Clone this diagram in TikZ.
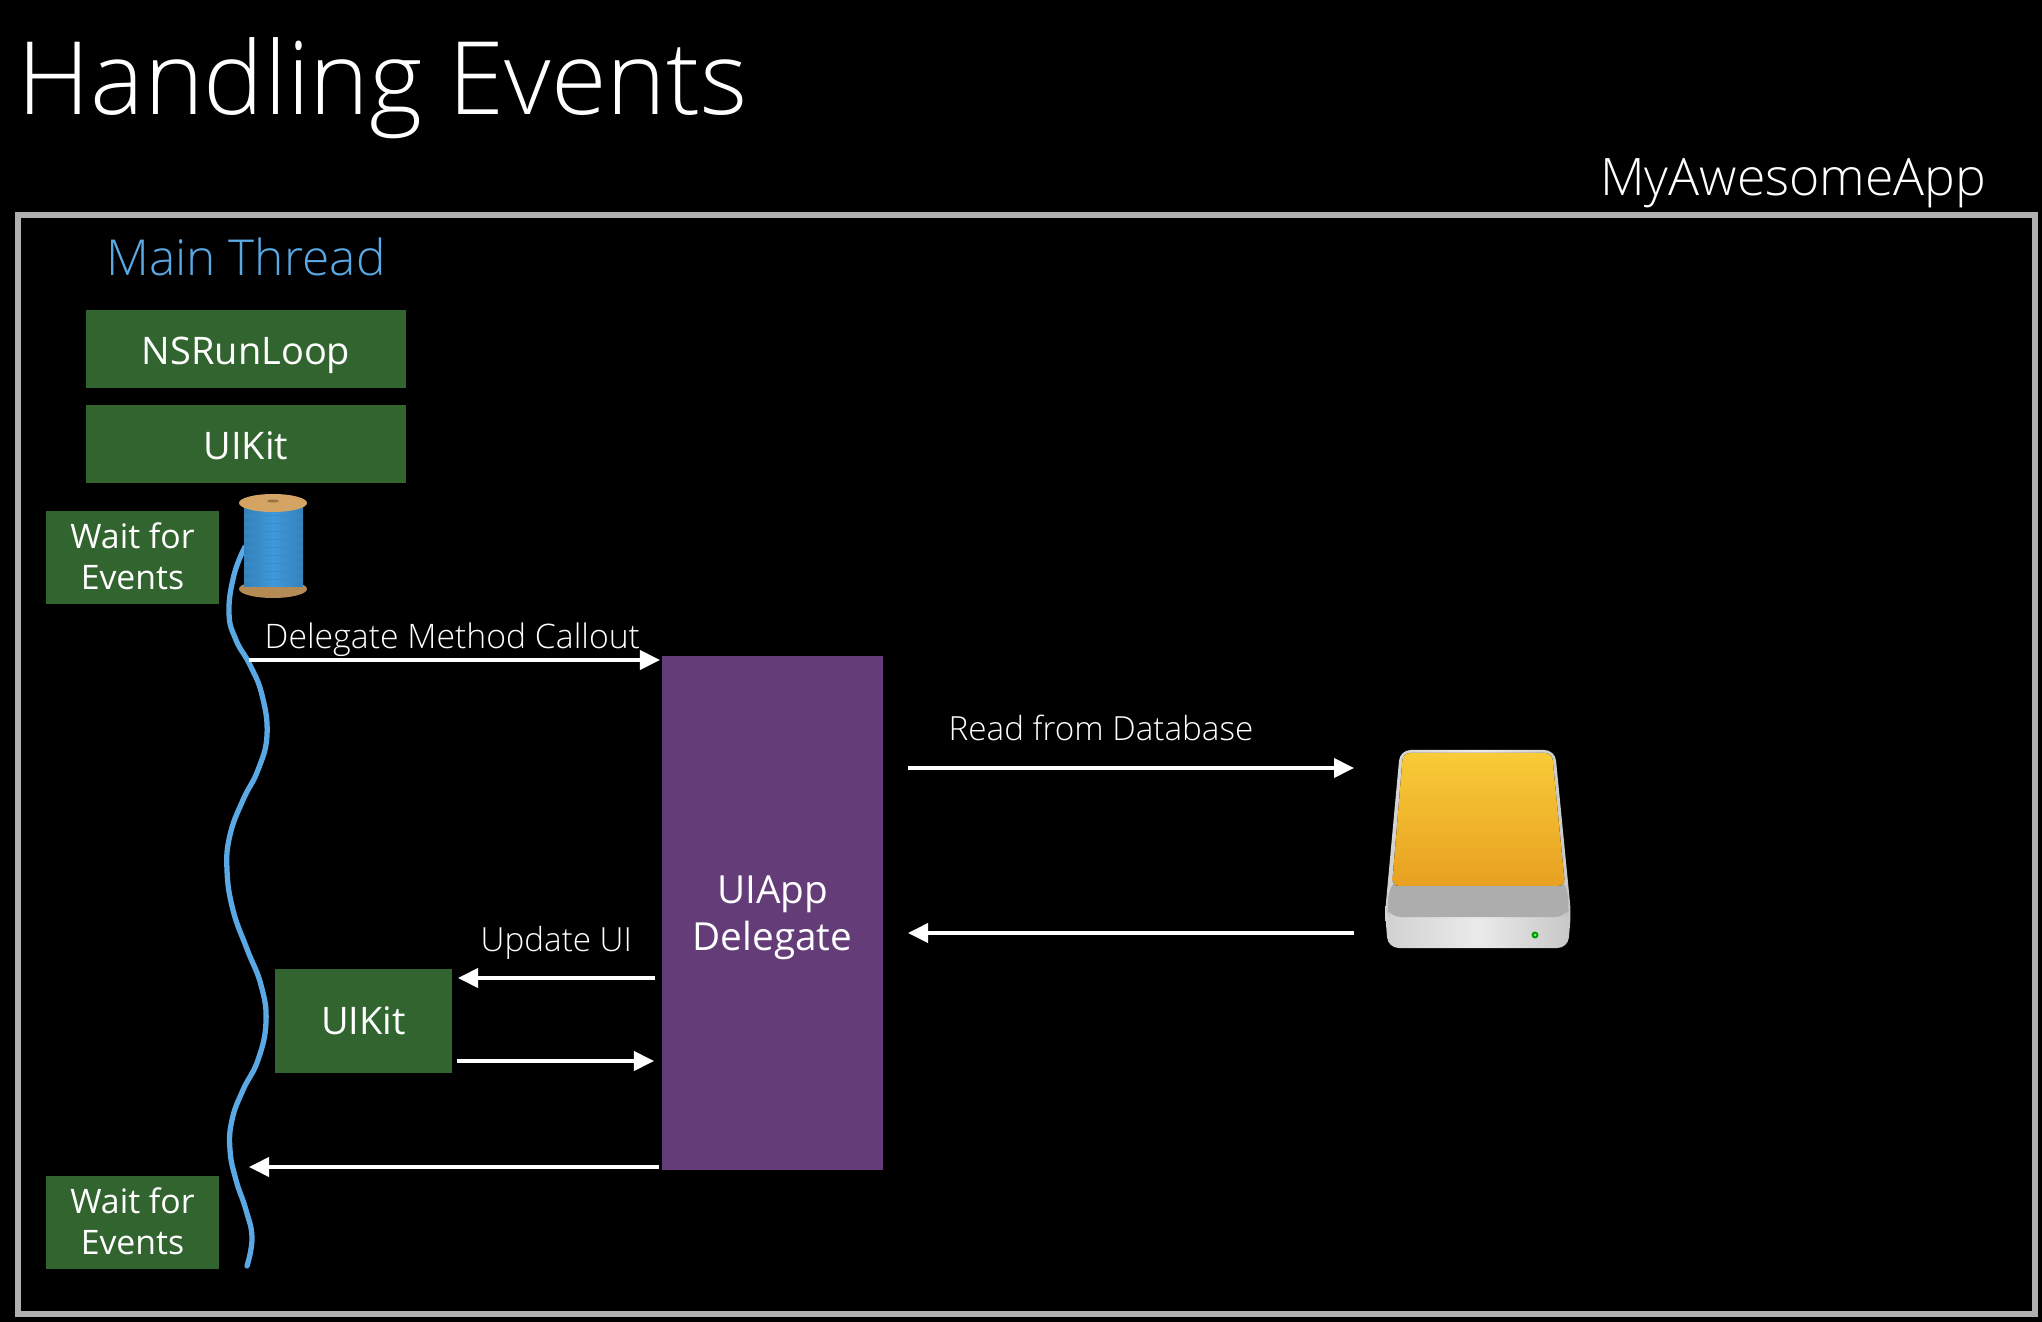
\documentclass[tikz,border=0pt]{standalone}
\usepackage{fontspec}
\setmainfont{Open Sans}
\newfontfamily\thinfont{Open Sans Light}
\usepackage{xcolor}
\usetikzlibrary{arrows.meta,positioning,shapes.geometric,calc}
\definecolor{cGreen}{RGB}{50,100,48}
\definecolor{cPurple}{RGB}{99,60,120}
\definecolor{cBlue}{RGB}{90,168,228}
\definecolor{cFrame}{RGB}{176,176,176}
\definecolor{cSpool}{RGB}{62,152,218}
\definecolor{cWood}{RGB}{212,164,100}
\definecolor{cDiskA}{RGB}{248,203,56}
\definecolor{cDiskB}{RGB}{232,160,32}

\begin{document}
\begin{tikzpicture}[
    x=0.01cm, y=-0.01cm,
    tbox/.style={rectangle,fill=cGreen,text=white,inner sep=0pt,align=center,font=\fontsize{10.8}{13}\selectfont},
    wide/.style={tbox,minimum width=3.2cm,minimum height=0.78cm,text height=1.6ex,text depth=0pt},
    wait/.style={tbox,minimum width=1.73cm,minimum height=0.93cm,text depth=1pt,font=\fontsize{9.6}{11.6}\selectfont},
    note/.style={inner sep=0pt,anchor=base west,text=white,font=\thinfont\fontsize{9.45}{12}\selectfont},
    flow/.style={-{Triangle[length=2mm,width=1.9mm]},line width=1.1pt,white},
    >=Stealth
  ]
  \useasboundingbox (0,0) rectangle (2042,1322);
  \fill[black] (0,0) rectangle (2042,1322);
  \draw[cFrame,line width=1.5pt] (18,215) rectangle (2035,1314);
  \node[inner sep=0pt,anchor=base west,text=white,font=\thinfont\fontsize{28.8}{34}\selectfont] (title) at (17,115) {Handling Events};
  \node[inner sep=0pt,anchor=base east,text=white,font=\thinfont\fontsize{14.7}{18}\selectfont] (app) at (1987,196) {MyAwesomeApp};
  \node[inner sep=0pt,anchor=base,text=cBlue,font=\thinfont\fontsize{14.1}{18}\selectfont] (main) at (246,276) {Main Thread};
  \node[wide] (runloop) at (246,349) {NSRunLoop};
  \node[wide,below=0.16cm of runloop] (uikit) {UIKit};
  \node[wait] (waita) at (132.5,557.5) {Wait for\\Events};
  \node[wait] (waitb) at (132.5,1222.5) {Wait for\\Events};
  \node[tbox,minimum width=1.77cm,minimum height=1.04cm] (uikitb) at (363.5,1021) {UIKit};
  \node[tbox,fill=cPurple,minimum width=2.21cm,minimum height=5.14cm,text depth=0pt,font=\fontsize{11}{13.5}\selectfont] (agent) at (772.5,913) {UIApp\\Delegate};
  % thread and spool
  \draw[cBlue,line width=1.5pt,line cap=round] plot[smooth,tension=0.75] coordinates {(245,547) (234,575) (229,613) (236,640) (250,665) (262,695) (267,735) (258,770) (243,800) (230,835) (227,870) (233,910) (247,949) (261,985) (266,1022) (258,1060) (243,1090) (232,1120) (230,1150) (236,1180) (246,1210) (252,1238) (247,1266)};
  \fill[cWood!85!black] (273,589) ellipse (34 and 9);
  \shade[left color=cSpool!85!black,right color=cSpool!85!black,middle color=cSpool] (244,505) rectangle (303,587);
  \foreach \y in {515,523,...,583}
    \draw[cSpool!92!black,line width=0.15pt] (244,\y) -- (303,\y);
  \fill[cWood] (273,503) ellipse (34 and 9);
  \fill[cWood!70!black] (273,501) ellipse (6 and 1.5);
  % disk
  \fill[rounded corners=3pt,left color=black!18!white,right color=black!22!white,middle color=black!8!white] (1400,750) -- (1555,750) -- (1571,913) -- (1568,948) -- (1388,948) -- (1385,913) -- cycle;
  \fill[rounded corners=3pt,white!68!black] (1392,880) -- (1565,880) -- (1570,908) -- (1566,917) -- (1390,917) -- (1386,908) -- cycle;
  \fill[rounded corners=2pt,top color=cDiskA,bottom color=cDiskB] (1403,753) -- (1552,753) -- (1565,886) -- (1392,886) -- cycle;
  \fill[green!60!black] (1535,935) circle (3.5);
  \fill[green!60!white] (1535,935) circle (1.5);
  % arrows
  \coordinate (tapa) at (249,660);
  \coordinate (tapb) at (908,768);
  \coordinate (tapc) at (1354,933);
  \coordinate (tapd) at (655,978);
  \coordinate (tape) at (457,1061);
  \coordinate (tapf) at (659,1167);
  \coordinate (endb) at (1354,768);
  \coordinate (endc) at (908,933);
  \coordinate (endd) at (458,978);
  \coordinate (ende) at (654,1061);
  \coordinate (endf) at (249,1167);
  \coordinate (enda) at (660,660);
  \draw[flow] (tapa) -- (enda);
  \draw[flow] (tapb) -- (endb);
  \draw[flow] (tapc) -- (endc);
  \draw[flow] (tapd) -- (endd);
  \draw[flow] (tape) -- (ende);
  \draw[flow] (tapf) -- (endf);
  \node[note,font=\thinfont\fontsize{9.6}{12}\selectfont] (lbla) at (264,649) {Delegate Method Callout};
  \node[note] (lblb) at (948,741) {Read from Database};
  \node[note] (lblc) at (480,952) {Update UI};
\end{tikzpicture}
\end{document}
